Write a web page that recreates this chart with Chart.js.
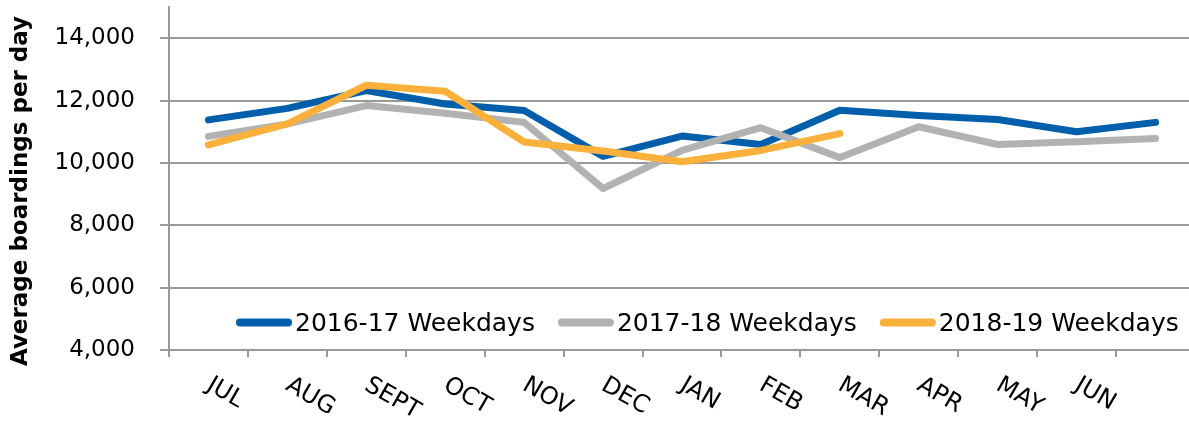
<!DOCTYPE html>
<html>
<head>
<meta charset="utf-8">
<title>Average boardings per day</title>
<script src="https://cdn.jsdelivr.net/npm/chart.js@4"></script>
<style>
  html, body { margin: 0; background: #fff; overflow: hidden; }
  /* el eje X original sigue unos px más allá del borde derecho de la imagen */
  #contenedor { width: 1195px; height: 422px; }
</style>
</head>
<body>
<div id="contenedor"><canvas id="graficoLineas"></canvas></div>
<script>
// Datos
const meses = ['JUL', 'AUG', 'SEPT', 'OCT', 'NOV', 'DEC', 'JAN', 'FEB', 'MAR', 'APR', 'MAY', 'JUN', ''];
const datos1617 = [11380, 11750, 12320, 11890, 11680, 10210, 10860, 10590, 11690, 11520, 11390, 11000, 11300];
const datos1718 = [10850, 11250, 11840, 11590, 11300, 9180, 10400, 11130, 10170, 11160, 10590, 10680, 10780];
const datos1819 = [10580, 11250, 12490, 12300, 10670, 10380, 10040, 10400, 10940, null, null, null, null];
const etiquetasSeries = ['2016-17 Weekdays', '2017-18 Weekdays', '2018-19 Weekdays'];
const ticksY = [4000, 6000, 8000, 10000, 12000, 14000];

const fuente = 'DejaVu Sans';
const grisEje = '#999999';

// Etiquetas del eje X giradas hacia abajo, el título del eje Y y la leyenda dentro del área
const pluginTextos = {
  id: 'textos',
  afterDraw(chart) {
    const ctx = chart.ctx;
    const x = chart.scales.x;

    ctx.save();
    ctx.fillStyle = '#000';
    ctx.font = '24px "' + fuente + '"';
    ctx.textAlign = 'left';
    ctx.textBaseline = 'alphabetic';
    meses.forEach((mes, i) => {
      if (!mes) return;
      const px = x.getPixelForValue(i);
      ctx.save();
      ctx.translate(px - 3, 389);
      ctx.rotate(30 * Math.PI / 180);
      ctx.fillText(mes, 0, 0);
      ctx.restore();
    });
    ctx.restore();

    // Título del eje Y
    ctx.save();
    ctx.fillStyle = '#000';
    ctx.font = 'bold 23px "' + fuente + '"';
    ctx.textAlign = 'center';
    ctx.textBaseline = 'middle';
    ctx.translate(21, 191);
    ctx.rotate(-Math.PI / 2);
    ctx.fillText('Average boardings per day', 0, 0);
    ctx.restore();

    // Leyenda
    ctx.save();
    ctx.font = '25px "' + fuente + '"';
    ctx.textBaseline = 'alphabetic';
    ctx.textAlign = 'left';
    let lx = 236;
    chart.data.datasets.forEach(ds => {
      ctx.strokeStyle = ds.borderColor;
      ctx.lineWidth = 8;
      ctx.lineCap = 'round';
      ctx.beginPath();
      ctx.moveTo(lx + 4, 322.5);
      ctx.lineTo(lx + 52, 322.5);
      ctx.stroke();
      ctx.fillStyle = '#000';
      ctx.fillText(ds.label, lx + 59, 330.5);
      lx += 59 + ctx.measureText(ds.label).width + 23;
    });
    ctx.restore();
  }
};

const ctxLineas = document.getElementById('graficoLineas').getContext('2d');
const graficoLineas = new Chart(ctxLineas, {
  type: 'line',
  data: {
    labels: meses,
    datasets: [
      {
        label: etiquetasSeries[0],
        data: datos1617,
        borderColor: '#005eaa',
        order: 3
      },
      {
        label: etiquetasSeries[1],
        data: datos1718,
        borderColor: '#b2b2b2',
        order: 2
      },
      {
        label: etiquetasSeries[2],
        data: datos1819,
        borderColor: '#fbb03b',
        order: 1
      }
    ]
  },
  options: {
    responsive: true,
    maintainAspectRatio: false,
    animation: false,
    layout: { padding: { left: 0, right: 0, top: 7, bottom: 65 } },
    elements: {
      line: { borderWidth: 7, tension: 0, borderJoinStyle: 'round', borderCapStyle: 'round', fill: false },
      point: { radius: 0, hoverRadius: 0 }
    },
    plugins: {
      legend: { display: false },
      tooltip: { enabled: false }
    },
    scales: {
      x: {
        type: 'category',
        offset: true,
        ticks: { display: false },
        grid: {
          offset: true,
          drawOnChartArea: false,
          drawTicks: true,
          tickLength: 7,
          color: grisEje,
          lineWidth: 2
        },
        border: { color: grisEje, width: 2 },
        afterFit(scale) {
          scale.paddingLeft = 0;
          scale.paddingRight = 0;
        }
      },
      y: {
        min: 4000,
        max: 15000,
        ticks: {
          stepSize: 2000,
          padding: 25,
          color: '#000',
          font: { family: fuente, size: 23 },
          callback: v => v.toLocaleString('en-US')
        },
        afterBuildTicks(scale) {
          scale.ticks = ticksY.map(v => ({ value: v }));
        },
        grid: {
          color: grisEje,
          lineWidth: 2,
          drawTicks: true,
          tickLength: 9
        },
        border: { color: grisEje, width: 2 },
        afterFit(scale) {
          scale.width = 169;
          scale.paddingTop = 0;
          scale.paddingBottom = 0;
        }
      }
    }
  },
  plugins: [pluginTextos]
});
</script>
</body>
</html>
